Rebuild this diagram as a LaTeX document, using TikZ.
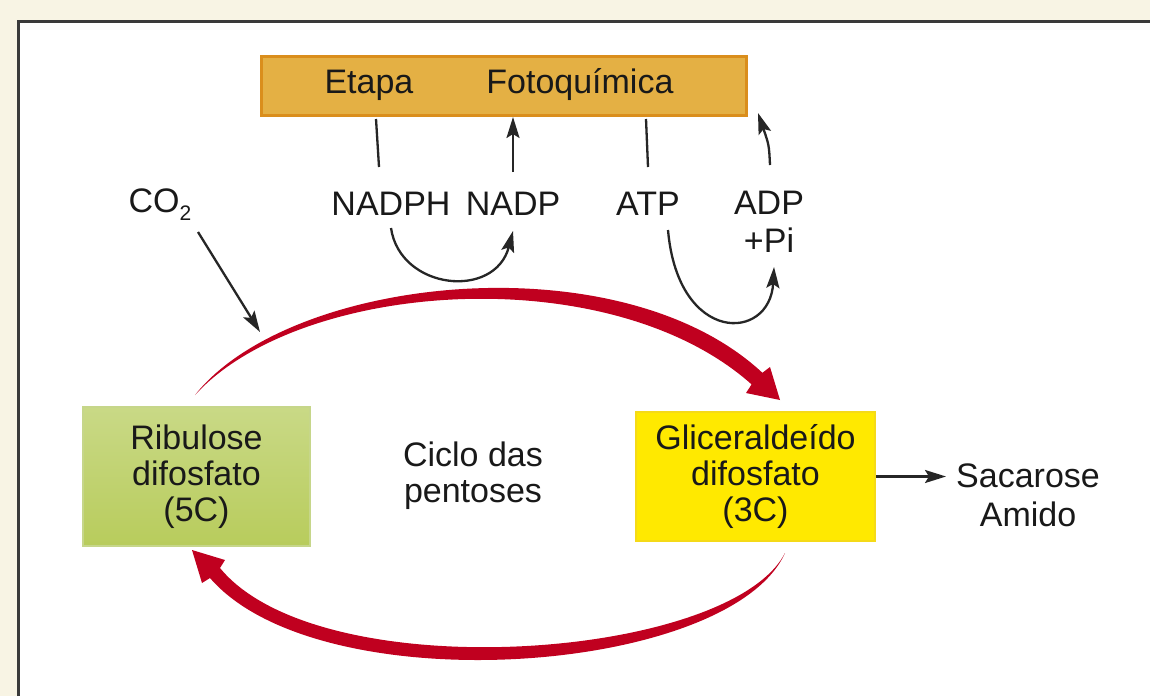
\documentclass[tikz,border=0pt]{standalone}
\usepackage{fontspec}
\setmainfont{Liberation Sans}
\usetikzlibrary{arrows.meta}
\definecolor{bgcream}{HTML}{F8F4E4}
\definecolor{panelline}{HTML}{3A3A3A}
\definecolor{orfill}{HTML}{E4B044}
\definecolor{ordraw}{HTML}{DA8E1C}
\definecolor{grtop}{HTML}{C9D986}
\definecolor{grbot}{HTML}{B8CC5C}
\definecolor{grdraw}{HTML}{C6D68A}
\definecolor{yefill}{HTML}{FFE900}
\definecolor{yedraw}{HTML}{F5DA18}
\definecolor{cycred}{HTML}{C0001F}
\tikzset{
  lbl/.style={font=\fontsize{34}{36}\selectfont, inner sep=0pt, text=black!90},
  blk/.style={line width=2.3pt, draw=black!85, arrows={-Stealth[length=21pt,width=13pt,inset=4pt]}},
  plainline/.style={line width=2.3pt, black!85},
  boxgreen/.style={lbl, align=center, draw=grdraw, line width=2pt, top color=grtop, bottom color=grbot, minimum width=227pt, minimum height=139pt},
  boxyellow/.style={lbl, align=center, draw=yedraw, line width=2pt, fill=yefill, minimum width=239pt, minimum height=129pt},
  boxorange/.style={draw=ordraw, line width=3pt, fill=orfill, minimum width=485pt, minimum height=59pt, inner sep=0pt},
  redarc/.style={fill=cycred, draw=none}
}
\begin{document}
\begin{tikzpicture}[x=1pt,y=-1pt]
\useasboundingbox (0,0) rectangle (1150,696);
\fill[bgcream] (0,0) rectangle (1150,696);
\fill[white] (18,21.5) rectangle (1150,696);
\draw[line width=3pt, panelline] (18,696) -- (18,21.5) -- (1150,21.5);

% top box
\node[boxorange] (foto) at (503.5,85.5) {};
\node[lbl, anchor=base] (fototxt) at (499,93) {Etapa\hspace{73pt}Fotoquímica};

% labels
\node[lbl, anchor=base] (nadph) at (391,215) {NADPH};
\node[lbl, anchor=base] (nadp) at (513,215) {NADP};
\node[lbl, anchor=base] (atp) at (648,215) {ATP};
\node[lbl, anchor=base] (adp) at (769,214) {ADP};
\node[lbl, anchor=base] (pi) at (769,252) {+Pi};
\node[lbl, anchor=base] (co2) at (160,212) {CO\raisebox{-8pt}{\fontsize{21}{21}\selectfont 2}};

% boxes
\node[boxgreen] (rib) at (196.5,476.5) {Ribulose\\difosfato\\(5C)};
\node[boxyellow] (gli) at (755.5,476.5) {Gliceraldeído\\difosfato\\(3C)};
\node[lbl, align=center] (ciclo) at (473,476) {Ciclo das\\pentoses};
\node[lbl, align=center, font=\fontsize{34}{39}\selectfont] (sac) at (1028,495) {Sacarose\\Amido};

% coordinates for connector ends
\coordinate (nadphTop) at (376,119);
\coordinate (nadphBot) at (379,167);
\coordinate (nadpBot) at (513,172);
\coordinate (nadpTop) at (513,117);
\coordinate (atpTop) at (646,119);
\coordinate (atpBot) at (648,167);
\coordinate (adpBot) at (770,165);
\coordinate (adpTop) at (758,113);
\coordinate (nadphLow) at (391,228);
\coordinate (nadpLow) at (513,231);
\coordinate (atpLow) at (668,230);
\coordinate (piLow) at (774,267);
\coordinate (co2Start) at (198,232);
\coordinate (co2End) at (260,332);

% black connectors
\draw[plainline] (nadphTop) -- (nadphBot);
\draw[blk] (nadpBot) -- (nadpTop);
\draw[plainline] (atpTop) -- (atpBot);
\draw[blk] (adpBot) .. controls (769,145) .. (adpTop);
\draw[blk] (nadphLow) .. controls (400,290) and (495,300) .. (nadpLow);
\draw[blk] (atpLow) .. controls (678,345) and (770,342) .. (piLow);
\draw[blk] (co2Start) -- (co2End);
\draw[blk] (gli.east) -- ([xshift=-10pt]gli.east -| sac.west);

% red cycle arrows
\fill[redarc] (195,395) .. controls (290,275) and (620,240) .. (762.4,372.8)
   -- (770,367) -- (780,400) -- (746,393) -- (751.6,384.4)
   .. controls (610,258) and (300,280) .. (195,395) -- cycle;
\fill[redarc] (785,553) .. controls (730,675) and (320,705) .. (210,578)
   -- (202,583) -- (192,550) -- (225,560) -- (220,568)
   .. controls (320,690) and (730,660) .. (785,553) -- cycle;
\end{tikzpicture}
\end{document}
